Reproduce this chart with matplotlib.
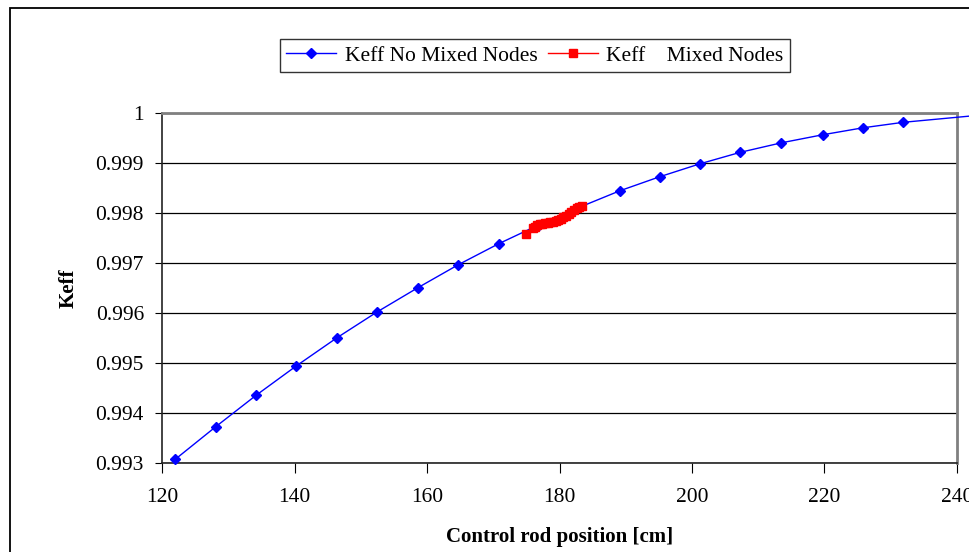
import matplotlib
matplotlib.use('Agg')
import matplotlib.pyplot as plt
from matplotlib.patches import Rectangle

# Keff without mixed nodes (last point lies just past the 240 cm edge)
rod_pos = [122.0, 128.1, 134.2, 140.3, 146.4, 152.5, 158.6, 164.7, 170.8, 176.9,
           183.0, 189.1, 195.1, 201.2, 207.3, 213.5, 219.7, 225.8, 231.9, 244.0]
keff = [0.99308, 0.99373, 0.99436, 0.99495, 0.99551, 0.99603, 0.99651, 0.99697, 0.99739, 0.99777,
        0.99812, 0.99845, 0.99873, 0.99899, 0.99922, 0.99941, 0.99957, 0.99971, 0.99982, 0.99997]

# Keff with mixed nodes
rod_pos_mixed = [175.0, 176.0, 176.3, 176.6, 177.0, 177.4, 177.8, 178.2, 178.6, 179.0, 179.4,
                 179.8, 180.2, 180.6, 181.0, 181.4, 181.8, 182.2, 182.6, 183.0, 183.4]
keff_mixed = [0.99759, 0.99770, 0.99773, 0.99776, 0.99778, 0.99779, 0.99780, 0.99781, 0.99782,
              0.99783, 0.99785, 0.99787, 0.99789, 0.99792, 0.99795, 0.99799, 0.99803, 0.99807,
              0.99811, 0.99813, 0.99814]

y_ticks = [0.993, 0.994, 0.995, 0.996, 0.997, 0.998, 0.999, 1.0]
y_tick_labels = ['0.993', '0.994', '0.995', '0.996', '0.997', '0.998', '0.999', '1']
x_ticks = [120, 140, 160, 180, 200, 220, 240]

plt.rcParams['font.family'] = ['Liberation Serif', 'DejaVu Serif']

fig = plt.figure(figsize=(9.7, 5.52), dpi=100)
ax = fig.add_axes([162 / 970, 1 - 463.3 / 552, (957 - 162) / 970, (463.3 - 113.3) / 552])

ax.plot(rod_pos, keff, color='#0000ff', lw=1, marker='D', ms=5, markevery=slice(0, -1),
        clip_on=False, zorder=3, label='Keff No Mixed Nodes')
ax.plot(rod_pos_mixed, keff_mixed, color='#ff0000', lw=1, marker='s', ms=6,
        zorder=4, label='Keff    Mixed Nodes')

ax.set_xlim(120, 240)
ax.set_ylim(0.993, 1.0)
ax.set_xticks(x_ticks)
ax.set_yticks(y_ticks)
ax.set_yticklabels(y_tick_labels)
ax.tick_params(axis='both', labelsize=15.5, direction='out', color='black')
ax.tick_params(axis='y', length=5, pad=8)
ax.tick_params(axis='x', length=7, pad=11)

ax.grid(axis='y', color='black', lw=0.9, zorder=0)
ax.set_axisbelow(True)
for side in ['left', 'bottom']:
    ax.spines[side].set_color('#222222')
    ax.spines[side].set_linewidth(1.2)
for side in ['top', 'right']:
    ax.spines[side].set_color('#808080')
    ax.spines[side].set_linewidth(2)

ax.set_xlabel('Control rod position [cm]', fontsize=15, fontweight='bold', labelpad=14)
ax.set_ylabel('Keff', fontsize=15, fontweight='bold', labelpad=12)

leg = fig.legend(loc='center', bbox_to_anchor=(535 / 970, 1 - 55.5 / 552), ncol=2,
                 fontsize=15.5, frameon=True, fancybox=False, edgecolor='black',
                 handlelength=2.3, handletextpad=0.4, columnspacing=0.5,
                 borderpad=0.3, borderaxespad=0)
leg.get_frame().set_linewidth(1)

# outer chart frame
fig.patches.append(Rectangle((10 / 970, -0.1), 1.2, 1 - 8 / 552 + 0.1, transform=fig.transFigure,
                             fill=False, edgecolor='black', lw=1.3))

fig.savefig('out.png', dpi=100)
